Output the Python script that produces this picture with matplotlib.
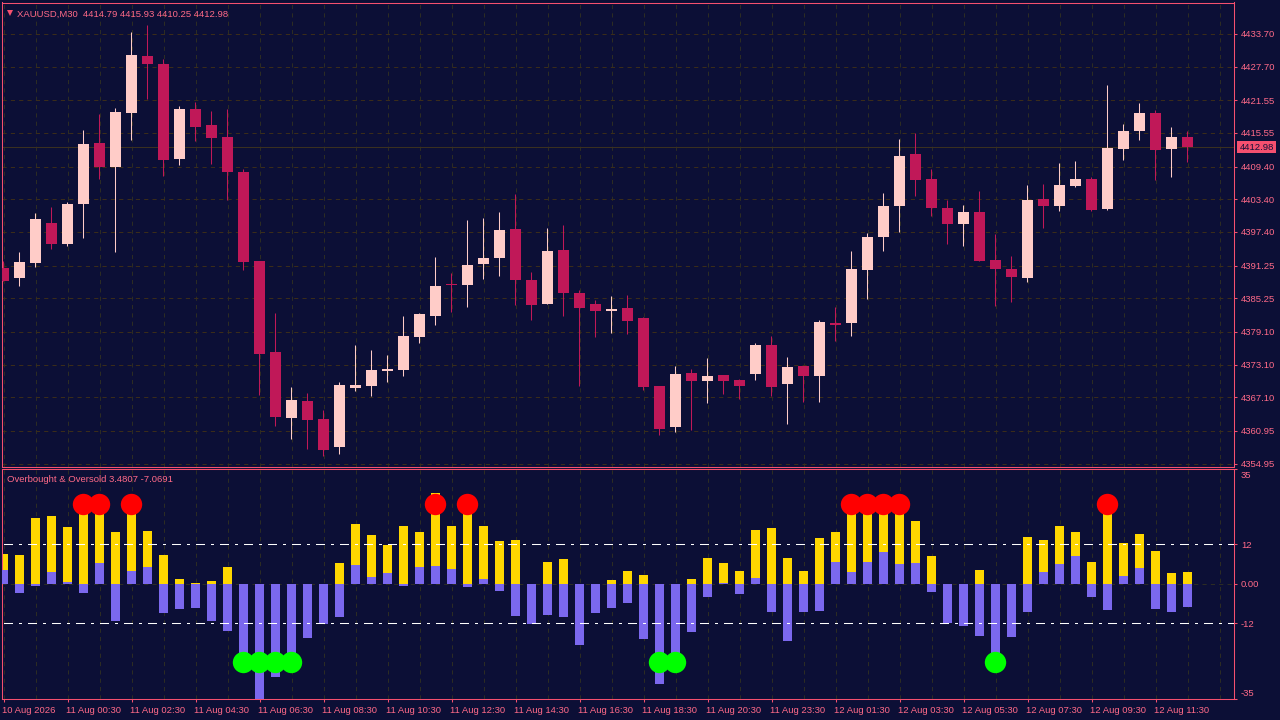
import matplotlib
matplotlib.use("Agg")
import matplotlib.pyplot as plt
from matplotlib.patches import Rectangle
from matplotlib.transforms import ScaledTranslation

# chart colours
BG = "#0c0f36"
EDGE = "#f5506f"
TEXT = "#ff6a88"
BULL = "#ffccc8"
BEAR = "#c01858"
GRID_H = "#3a2c1a"
GRID_V = "#2c2c24"
FONT = "Liberation Sans"
FSIZE = 6.8

plt.rcParams["font.family"] = FONT

# XAUUSD M30 candles
opens = [4390.79, 4388.96, 4391.71, 4399.04, 4395.19, 4402.53, 4413.71, 4409.31, 4419.21, 4429.66,
         4428.20, 4410.78, 4419.95, 4417.01, 4414.81, 4408.39, 4392.08, 4375.39, 4363.29, 4366.41,
         4363.11, 4357.97, 4368.79, 4369.16, 4371.91, 4372.09, 4378.14, 4381.99, 4387.86, 4387.68,
         4391.53, 4392.63, 4397.94, 4388.59, 4384.19, 4394.09, 4386.21, 4384.19, 4382.91, 4383.46,
         4381.62, 4369.16, 4361.64, 4371.54, 4370.07, 4371.18, 4370.26, 4371.36, 4376.67, 4369.52,
         4372.82, 4370.99, 4380.71, 4380.71, 4390.43, 4396.48, 4402.16, 4411.69, 4407.11, 4401.79,
         4398.86, 4401.06, 4392.26, 4390.61, 4388.96, 4403.44, 4402.16, 4405.83, 4407.11, 4401.61,
         4412.61, 4415.91, 4419.21, 4412.61, 4414.79]
highs = [4392.08, 4393.73, 4400.88, 4401.98, 4402.89, 4416.09, 4419.03, 4420.13, 4434.06, 4435.35,
         4429.11, 4420.50, 4421.23, 4419.58, 4419.95, 4408.94, 4392.08, 4382.54, 4368.97, 4367.87,
         4364.75, 4369.89, 4376.67, 4375.76, 4374.84, 4381.99, 4382.54, 4392.81, 4389.88, 4399.59,
         4399.96, 4401.06, 4404.36, 4390.06, 4398.13, 4398.68, 4386.76, 4384.93, 4385.66, 4385.84,
         4381.81, 4369.16, 4372.82, 4372.27, 4374.29, 4371.18, 4370.44, 4377.04, 4378.32, 4374.47,
         4372.82, 4381.26, 4383.64, 4393.91, 4397.21, 4404.54, 4414.44, 4415.54, 4408.94, 4403.26,
         4402.34, 4404.91, 4397.03, 4393.00, 4406.01, 4406.19, 4410.04, 4410.41, 4407.48, 4424.35,
         4417.19, 4421.05, 4419.76, 4416.64, 4415.93]
lows = [4388.41, 4387.49, 4390.97, 4394.28, 4394.83, 4396.29, 4407.11, 4393.73, 4414.26, 4421.78,
        4407.66, 4409.68, 4414.08, 4409.86, 4403.26, 4390.43, 4367.51, 4361.82, 4359.44, 4357.60,
        4356.32, 4356.69, 4368.24, 4367.32, 4369.89, 4370.99, 4377.04, 4380.34, 4382.73, 4383.64,
        4388.78, 4389.33, 4384.01, 4381.26, 4384.19, 4381.99, 4369.16, 4378.14, 4378.87, 4378.69,
        4368.42, 4360.17, 4360.72, 4361.09, 4366.04, 4367.69, 4366.77, 4370.26, 4367.32, 4362.19,
        4366.22, 4366.22, 4377.41, 4378.32, 4385.11, 4393.91, 4397.39, 4404.00, 4400.33, 4395.19,
        4394.83, 4392.08, 4383.83, 4384.56, 4388.23, 4398.13, 4401.24, 4405.64, 4401.24, 4401.43,
        4410.59, 4414.26, 4406.93, 4407.48, 4410.25]
closes = [4388.41, 4391.89, 4399.78, 4395.19, 4402.53, 4413.53, 4409.31, 4419.40, 4429.85, 4428.20,
          4410.59, 4419.95, 4416.64, 4414.63, 4408.39, 4391.89, 4375.02, 4363.47, 4366.59, 4362.92,
          4357.42, 4369.34, 4369.34, 4372.09, 4372.27, 4378.32, 4382.36, 4387.49, 4387.68, 4391.34,
          4392.63, 4397.76, 4388.59, 4384.01, 4393.91, 4386.21, 4383.46, 4382.91, 4383.28, 4381.08,
          4368.97, 4361.27, 4371.36, 4370.07, 4370.99, 4370.07, 4369.16, 4376.67, 4368.97, 4372.64,
          4370.99, 4380.89, 4380.34, 4390.61, 4396.48, 4402.16, 4411.33, 4406.93, 4401.79, 4398.86,
          4401.06, 4392.08, 4390.61, 4389.14, 4403.26, 4402.16, 4406.01, 4407.11, 4401.43, 4412.79,
          4415.91, 4419.21, 4412.43, 4414.81, 4412.98]

# indicator histograms
yellow = [9.1, 8.8, 20.1, 20.7, 17.3, 25.5, 25.0, 15.8, 25.5, 16.1, 8.8, 1.5, 0.3, 0.9, 5.2,
          0, 0, 0, 0, 0, 0, 6.4, 18.2, 14.9, 11.9, 17.6, 15.8, 27.7, 17.6, 25.5, 17.6, 13.1, 13.4,
          0, 6.7, 7.6, 0, 0, 1.2, 4.0, 2.7, 0, 0, 1.5, 7.9, 6.4, 4.0, 16.4, 17.0, 7.9, 4.0, 14.0,
          15.8, 25.5, 25.0, 25.5, 25.0, 19.1, 8.5, 0, 0, 4.3, 0, 0, 14.3, 13.4, 17.6, 15.8, 6.7,
          25.5, 12.5, 15.2, 10.0, 3.3, 3.4807]
purple = [4.3, -2.7, -0.6, 3.6, 0.6, -2.7, 6.4, -11.2, 4.0, 5.2, -8.8, -7.6, -7.3, -11.2, -14.3,
          -25.0, -35.0, -28.3, -25.0, -16.4, -12.2, -10.0, 5.8, 2.1, 3.3, -0.6, 5.2, 5.5, 4.6, -0.9,
          1.5, -2.1, -9.7, -12.2, -9.4, -10.0, -18.5, -8.8, -7.3, -5.8, -16.7, -30.4, -26.0, -14.6,
          -4.0, 0.3, -3.0, 1.8, -8.5, -17.3, -8.5, -8.2, 6.7, 3.6, 6.7, 9.7, 6.1, 6.4, -2.4, -11.9,
          -12.8, -15.8, -25.0, -16.1, -8.5, 3.6, 6.1, 8.5, -4.0, -7.9, 2.4, 4.9, -7.6, -8.5, -7.0691]
red_bars = [5, 6, 8, 27, 29, 53, 54, 55, 56, 69]
green_bars = [15, 16, 17, 18, 41, 42, 62]

price_ticks = [4433.70, 4427.70, 4421.55, 4415.55, 4409.40, 4403.40, 4397.40,
               4391.25, 4385.25, 4379.10, 4373.10, 4367.10, 4360.95, 4354.95]
last_price = 4412.98
time_labels = ["10 Aug 2026", "11 Aug 00:30", "11 Aug 02:30", "11 Aug 04:30", "11 Aug 06:30",
               "11 Aug 08:30", "11 Aug 10:30", "11 Aug 12:30", "11 Aug 14:30", "11 Aug 16:30",
               "11 Aug 18:30", "11 Aug 20:30", "11 Aug 23:30", "12 Aug 01:30", "12 Aug 03:30",
               "12 Aug 05:30", "12 Aug 07:30", "12 Aug 09:30", "12 Aug 11:30"]
header = "XAUUSD,M30  4414.79 4415.93 4410.25 4412.98"
sub_header = "Overbought & Oversold 3.4807 -7.0691"

W, H = 1280, 720


def pane(left, top, right, bottom):
    # pixel box (from top left) -> figure axes
    ax = fig.add_axes([left / W, 1 - bottom / H, (right - left) / W, (bottom - top) / H])
    ax.set_facecolor(BG)
    for s in ax.spines.values():
        s.set_color(EDGE)
        s.set_linewidth(0.75)
    ax.set_xlim(-0.069, 76.93)
    ax.yaxis.tick_right()
    ax.set_axisbelow(True)
    ax.tick_params(axis="y", length=2.2, width=0.75, color=EDGE, labelcolor=TEXT, pad=2.5,
                   labelsize=FSIZE)
    for i in range(0, 78, 2):
        ax.axvline(i, color=GRID_V, lw=0.75, dashes=(4, 4), zorder=0)
    return ax


fig = plt.figure(figsize=(12.8, 7.2), dpi=100, facecolor=BG)

# price pane
ax = pane(2.4, 2.5, 1234.4, 466.5)
ax.set_ylim(4354.40, 4439.47)
for p in price_ticks:
    ax.axhline(p, color=GRID_H, lw=0.75, dashes=(4, 4), zorder=0)
ax.axhline(last_price, color="#3a3020", lw=0.75, zorder=0)

for i in range(len(opens)):
    col = BULL if closes[i] >= opens[i] else BEAR
    # small nudge so the wick lands on the same pixel column as the reference
    ax.vlines(i - 0.04, lows[i], highs[i], color=col, lw=0.75, zorder=2)
    ax.bar(i, abs(closes[i] - opens[i]), bottom=min(opens[i], closes[i]), width=0.6875,
           color=col, linewidth=0, zorder=3)

ax.set_xticks([])
ax.set_yticks(price_ticks)
ax.set_yticklabels(["%.2f" % p for p in price_ticks])

# last price tag on the axis
ax.add_patch(Rectangle((1.002, last_price - 1.05), 0.032, 2.1, transform=ax.get_yaxis_transform(),
                       facecolor=EDGE, edgecolor="none", clip_on=False, zorder=5))
ax.text(1.0045, last_price, "%.2f" % last_price, transform=ax.get_yaxis_transform(), color="#141038",
        fontsize=FSIZE, va="center_baseline", ha="left", zorder=6)

ax.plot([0.0058], [0.9776], "v", transform=ax.transAxes, color=EDGE, ms=5, mew=0, clip_on=False)
ax.text(0.0118, 0.9776, header, transform=ax.transAxes, color=TEXT, fontsize=FSIZE,
        va="center_baseline", ha="left")

# indicator pane
ax2 = pane(2.4, 468.5, 1234.4, 699)
ax2.set_ylim(-35, 35)
ax2.axhline(0, color=GRID_V, lw=0.75, dashes=(4, 4), zorder=0)
xs = list(range(len(yellow)))
ax2.bar(xs, yellow, width=0.5625, color="#ffd700", linewidth=0, zorder=2)
ax2.bar(xs, purple, width=0.5625, color="#7b68ee", linewidth=0, zorder=3)
for lv in (12, -12):
    ax2.axhline(lv, color="white", lw=0.75, linestyle=(21.6, (8.64, 5.76, 2.88, 5.76)), zorder=4)
# markers snap a pixel right of the bar centre otherwise
ax2.plot([i - 0.05 for i in red_bars], [24.1] * len(red_bars), "o", color="#ff0000", ms=15.4,
         mew=0, zorder=5)
ax2.plot([i - 0.05 for i in green_bars], [-23.9] * len(green_bars), "o", color="#00ff00", ms=15.4,
         mew=0, zorder=5)

# outer labels sit inside the pane, off their ticks
ax2.set_yticks([35, 12, 0, -12, -35])
ax2.set_yticklabels(["", "12", "0.00", "-12", ""])
ax2.annotate("35", (1, 35), xycoords=ax2.get_yaxis_transform(), xytext=(4.3, -4.4),
             textcoords="offset points", color=TEXT, fontsize=FSIZE, va="center_baseline")
ax2.annotate("-35", (1, -35), xycoords=ax2.get_yaxis_transform(), xytext=(4.3, 4.4),
             textcoords="offset points", color=TEXT, fontsize=FSIZE, va="center_baseline")

ax2.set_xticks(range(0, 4 * len(time_labels), 4))
ax2.set_xticklabels(time_labels, ha="left")
ax2.tick_params(axis="x", length=2.2, width=0.75, color=EDGE, labelcolor=TEXT, pad=3, labelsize=FSIZE)
nudge = ScaledTranslation(-1.5 / 100, 0, fig.dpi_scale_trans)
for t in ax2.get_xticklabels():
    t.set_transform(t.get_transform() + nudge)

ax2.text(0.0037, 0.9576, sub_header, transform=ax2.transAxes, color=TEXT, fontsize=FSIZE,
         va="center_baseline", ha="left", zorder=6)

fig.savefig("out.png", dpi=100, facecolor=BG)
